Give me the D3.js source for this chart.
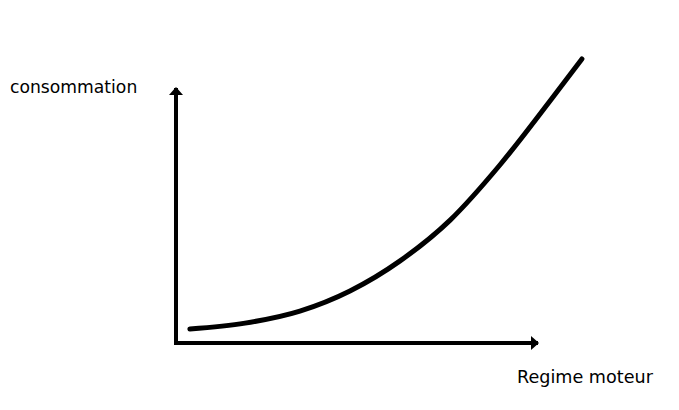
<!DOCTYPE html>
<html lang="fr">
<head>
<meta charset="UTF-8">
<title>Consommation / regime moteur</title>
<script src="https://cdn.jsdelivr.net/npm/d3@7"></script>
<style>
  body { margin: 0; background: #fff; }
  text { font-family: "DejaVu Sans", Verdana, sans-serif; fill: #000; }
</style>
</head>
<body>
<div id="chart"></div>
<script>
// regime moteur (x) and consommation (y), arbitrary units
let regime       = [4.1, 19.3, 34.4, 48.2, 62.0, 75.8, 89.5, 103.3, 112.1];
let consommation = [5.5,  7.8, 12.5, 20.4, 32.2, 48.2, 69.8,  94.9, 111.4];
let xLabel = "Regime moteur";
let yLabel = "consommation";

let w = 679, h = 410;
let svg = d3.select("#chart").append("svg")
    .attr("width", w)
    .attr("height", h);

// axis length = 0..100 units
let x = d3.scaleLinear().domain([0, 100]).range([175, 538]);
let y = d3.scaleLinear().domain([0, 100]).range([343, 88]);

let data = regime.map(function(d, i){
    return { x: d, y: consommation[i] };
});

// arrow heads
let defs = svg.append("defs");
defs.append("marker")
    .attr("id", "arrow")
    .attr("viewBox", "0 0 8 14")
    .attr("refX", 7)
    .attr("refY", 7)
    .attr("markerWidth", 8)
    .attr("markerHeight", 14)
    .attr("markerUnits", "userSpaceOnUse")
    .attr("orient", "auto")
    .append("path")
    .attr("d", "M0,0 L8,7 L0,14 Z")
    .attr("fill", "#000");

// horizontal axis
svg.append("line")
    .attr("x1", x(0) - 1).attr("y1", y(0))
    .attr("x2", x(100)).attr("y2", y(0))
    .attr("stroke", "#000")
    .attr("stroke-width", 4)
    .attr("marker-end", "url(#arrow)");

// vertical axis
svg.append("line")
    .attr("x1", x(0) + 1).attr("y1", y(0) + 2)
    .attr("x2", x(0) + 1).attr("y2", y(100))
    .attr("stroke", "#000")
    .attr("stroke-width", 4)
    .attr("marker-end", "url(#arrow)");

// curve
let line = d3.line()
    .x(function(d){ return x(d.x); })
    .y(function(d){ return y(d.y); })
    .curve(d3.curveMonotoneX);

svg.append("path")
    .datum(data)
    .attr("d", line)
    .attr("fill", "none")
    .attr("stroke", "#000")
    .attr("stroke-width", 5)
    .attr("stroke-linecap", "round");

// labels
svg.append("text")
    .attr("x", 10)
    .attr("y", 93)
    .style("font-size", "17.2px")
    .text(yLabel);

svg.append("text")
    .attr("x", 517)
    .attr("y", 383)
    .style("font-size", "17.6px")
    .text(xLabel);
</script>
</body>
</html>
